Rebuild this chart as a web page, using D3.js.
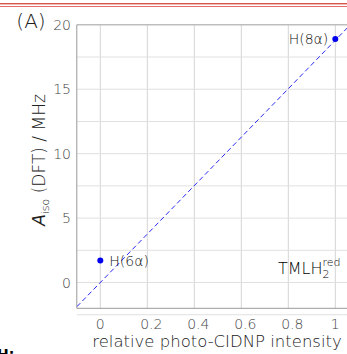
<!DOCTYPE html>
<html>
<head>
<meta charset="utf-8">
<script src="https://cdn.jsdelivr.net/npm/d3@7"></script>
<style>
  body { margin: 0; background: #fff; }
  text { font-family: "DejaVu Sans", sans-serif; font-weight: 200; }
</style>
</head>
<body>
<div id="chart"></div>
<script>
// values
var intensity = [0, 1.0];
var aiso = [1.7, 18.9];
var pointLabels = ["H(6α)", "H(8α)"];
var fitSlope = 18.8;
var xTicks = [0, 0.2, 0.4, 0.6, 0.8, 1];
var xTickLabels = ["0", "0.2", "0.4", "0.6", "0.8", "1"];
var yTicks = [0, 5, 10, 15, 20];
var yGrid = [-2.5, 0, 2.5, 5, 7.5, 10, 12.5, 15, 17.5, 20];

var width = 347, height = 354;

var svg = d3.select("#chart").append("svg")
    .attr("width", width)
    .attr("height", height);

// red double rule on top (from the page)
svg.append("rect").attr("x", 0).attr("y", 3).attr("width", width).attr("height", 1.4).attr("fill", "#d9534f");
svg.append("rect").attr("x", 0).attr("y", 6).attr("width", width).attr("height", 1).attr("fill", "#e07070");

var x = d3.scaleLinear().domain([-0.1, 1.1]).range([76.8, 358.8]);
var y = d3.scaleLinear().domain([-2, 20]).range([308.3, 24.8]);

svg.append("clipPath").attr("id", "plotClip")
    .append("rect")
    .attr("x", x(-0.1)).attr("y", y(20))
    .attr("width", x(1.1) - x(-0.1)).attr("height", y(-2) - y(20));

// grid
var grid = svg.append("g");
grid.selectAll(".vg").data(xTicks).enter().append("line")
    .attr("x1", function (d) { return x(d); })
    .attr("x2", function (d) { return x(d); })
    .attr("y1", y(20)).attr("y2", y(-2))
    .attr("stroke", "#d4d4d4").attr("stroke-width", 1);
grid.selectAll(".hg").data(yGrid).enter().append("line")
    .attr("x1", x(-0.1)).attr("x2", x(1.1))
    .attr("y1", function (d) { return y(d); })
    .attr("y2", function (d) { return y(d); })
    .attr("stroke", "#e0e0e0").attr("stroke-width", 1);

// frame
svg.append("line").attr("x1", x(-0.1)).attr("x2", x(1.1)).attr("y1", y(20)).attr("y2", y(20))
    .attr("stroke", "#aaa");
svg.append("line").attr("x1", x(-0.1)).attr("x2", x(1.1)).attr("y1", y(-2)).attr("y2", y(-2))
    .attr("stroke", "#999");
svg.append("line").attr("x1", x(-0.1)).attr("x2", x(-0.1)).attr("y1", y(20)).attr("y2", y(-2))
    .attr("stroke", "#999");

// tick labels
svg.selectAll(".xt").data(xTicks).enter().append("text")
    .attr("x", function (d) { return x(d) + (d > 0 && d < 1 ? 4 : 0); })
    .attr("y", 329)
    .attr("text-anchor", "middle")
    .attr("font-size", 14)
    .attr("fill", "#444")
    .text(function (d, i) { return xTickLabels[i]; });

svg.selectAll(".yt").data(yTicks).enter().append("text")
    .attr("x", 71)
    .attr("y", function (d) { return y(d) + 5; })
    .attr("text-anchor", "end")
    .attr("font-size", 14)
    .attr("fill", "#444")
    .text(function (d) { return d; });

// fit line
svg.append("line")
    .attr("clip-path", "url(#plotClip)")
    .attr("x1", x(-0.1)).attr("y1", y(-0.1 * fitSlope))
    .attr("x2", x(1.1)).attr("y2", y(1.1 * fitSlope))
    .attr("stroke", "#2a2aee")
    .attr("stroke-width", 1)
    .attr("stroke-dasharray", "5,3");

// points
svg.selectAll(".pt").data(intensity).enter().append("circle")
    .attr("cx", function (d) { return x(d); })
    .attr("cy", function (d, i) { return y(aiso[i]); })
    .attr("r", 3)
    .attr("fill", "#0000ee");

svg.append("text")
    .attr("x", x(intensity[0]) + 9).attr("y", y(aiso[0]) + 5)
    .attr("font-size", 14).attr("fill", "#111")
    .text(pointLabels[0]);
svg.append("text")
    .attr("x", x(intensity[1]) - 7).attr("y", y(aiso[1]) + 5)
    .attr("text-anchor", "end")
    .attr("font-size", 14).attr("fill", "#111")
    .text(pointLabels[1]);

// species label
var sp = svg.append("text")
    .attr("x", 278).attr("y", 274)
    .attr("font-size", 16).attr("fill", "#000");
sp.append("tspan").text("TMLH");
sp.append("tspan").attr("font-size", 11).attr("dy", 4).text("2");
sp.append("tspan").attr("font-size", 11).attr("dx", -7).attr("dy", -12).text("red");

// axis titles
svg.append("text")
    .attr("x", 31).attr("y", 28)
    .attr("text-anchor", "middle")
    .attr("font-size", 20).attr("fill", "#222")
    .text("(A)");

svg.append("text")
    .attr("x", 217).attr("y", 347)
    .attr("text-anchor", "middle")
    .attr("font-size", 16.5).attr("fill", "#222")
    .text("relative photo-CIDNP intensity");

var yl = svg.append("text")
    .attr("transform", "translate(45,160) rotate(-90)")
    .attr("text-anchor", "middle")
    .attr("font-size", 17).attr("fill", "#222");
yl.append("tspan").attr("font-style", "italic").text("A");
yl.append("tspan").attr("font-size", 11).attr("dy", 4).text("iso");
yl.append("tspan").attr("dy", -4).text(" (DFT) / MHz");

// cropped bold text from the neighbouring panel
svg.append("text")
    .attr("x", -3).attr("y", 359)
    .attr("font-size", 14)
    .style("font-weight", "bold")
    .attr("fill", "#000")
    .text("H:");
</script>
</body>
</html>
